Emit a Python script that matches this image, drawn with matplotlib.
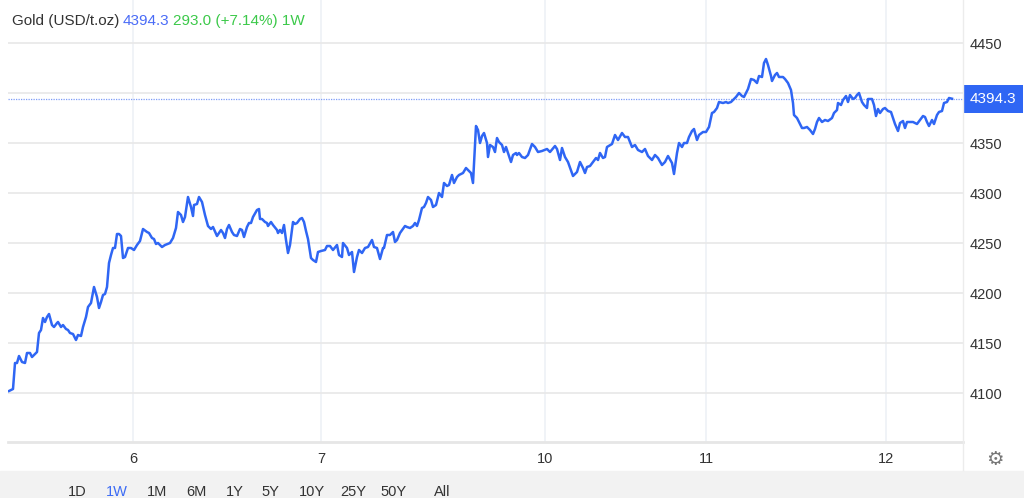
import matplotlib.pyplot as plt
from matplotlib.lines import Line2D
from matplotlib.patches import Rectangle

plt.rcParams['font.family'] = ['Liberation Sans', 'DejaVu Sans']

# Gold price, 1W view (x = time step along the chart, y = USD/t.oz)
t = [9, 13, 15, 17, 19, 22, 25, 27, 30, 32, 36, 37, 39, 41, 43, 45, 47, 49, 52, 54,
     57, 58, 61, 63, 66, 68, 70, 73, 76, 78, 81, 83, 86, 88, 91, 94, 97, 99, 101, 103,
     105, 107, 109, 111, 113, 115, 117, 119, 121, 123, 125, 128, 131, 134, 137, 140, 143, 147, 149, 152,
     154, 156, 158, 162, 165, 170, 173, 176, 178, 181, 183, 185, 188, 191, 193, 194, 197, 199, 202, 205,
     208, 211, 213, 217, 219, 221, 223, 225, 227, 229, 232, 234, 237, 240, 242, 244, 247, 249, 251, 253,
     257, 259, 260, 262, 265, 267, 268, 271, 273, 277, 278, 280, 282, 284, 286, 288, 290, 293, 295, 297,
     300, 302, 304, 306, 308, 311, 313, 316, 318, 321, 325, 327, 330, 333, 337, 339, 342, 343, 347, 349,
     352, 354, 357, 359, 362, 365, 368, 372, 374, 377, 380, 383, 384, 387, 390, 393, 395, 397, 400, 405,
     407, 410, 413, 415, 417, 419, 422, 424, 426, 428, 431, 433, 436, 439, 442, 444, 447, 449, 452, 454,
     457, 459, 463, 466, 468, 471, 473, 476, 478, 480, 482, 484, 487, 488, 490, 493, 495, 497, 499, 502,
     504, 506, 508, 511, 513, 516, 517, 519, 522, 525, 528, 532, 535, 538, 542, 547, 550, 555, 557, 560,
     562, 565, 568, 573, 577, 580, 583, 585, 587, 590, 593, 596, 598, 600, 603, 605, 607, 612, 615, 618,
     622, 625, 628, 632, 635, 638, 642, 645, 648, 652, 655, 658, 662, 665, 668, 672, 674, 677, 679, 682,
     684, 687, 689, 692, 694, 697, 699, 703, 706, 709, 712, 714, 717, 719, 723, 726, 728, 731, 733, 736,
     739, 742, 744, 746, 748, 751, 754, 757, 759, 762, 764, 766, 768, 771, 772, 775, 777, 779, 783, 785,
     788, 791, 793, 794, 797, 799, 802, 804, 807, 810, 813, 815, 817, 819, 822, 825, 828, 832, 834, 837,
     838, 841, 843, 846, 848, 850, 853, 855, 857, 859, 862, 864, 867, 868, 872, 874, 876, 878, 880, 883,
     885, 888, 891, 893, 895, 898, 900, 903, 905, 907, 910, 913, 917, 920, 923, 925, 927, 929, 932, 934,
     937, 939, 942, 944, 947, 949, 952]
price = [4102, 4104, 4130, 4130, 4137, 4131, 4130, 4140, 4140, 4136, 4140, 4141, 4160, 4163, 4175, 4171, 4176, 4179, 4168, 4166,
         4170, 4171, 4166, 4168, 4164, 4163, 4160, 4159, 4153, 4158, 4157, 4166, 4176, 4186, 4190, 4206, 4196, 4185, 4191, 4198,
         4199, 4206, 4230, 4238, 4245, 4245, 4259, 4259, 4257, 4235, 4236, 4245, 4245, 4243, 4248, 4252, 4264, 4261, 4260, 4255,
         4254, 4249, 4250, 4246, 4248, 4250, 4255, 4265, 4281, 4278, 4271, 4276, 4296, 4286, 4277, 4288, 4289, 4296, 4291, 4278,
         4267, 4264, 4266, 4257, 4260, 4263, 4260, 4255, 4264, 4268, 4261, 4258, 4257, 4264, 4263, 4256, 4266, 4270, 4270, 4276,
         4283, 4284, 4274, 4274, 4271, 4270, 4267, 4271, 4268, 4263, 4260, 4263, 4260, 4268, 4253, 4240, 4248, 4271, 4269, 4270,
         4274, 4275, 4271, 4262, 4254, 4235, 4233, 4231, 4241, 4242, 4243, 4247, 4247, 4243, 4248, 4238, 4236, 4250, 4245, 4238,
         4241, 4221, 4236, 4243, 4240, 4245, 4246, 4253, 4246, 4245, 4234, 4245, 4245, 4258, 4258, 4261, 4251, 4253, 4260, 4267,
         4266, 4265, 4267, 4270, 4267, 4273, 4285, 4286, 4290, 4296, 4293, 4286, 4288, 4300, 4296, 4310, 4307, 4308, 4318, 4310,
         4316, 4318, 4320, 4325, 4323, 4320, 4310, 4367, 4363, 4350, 4357, 4360, 4350, 4336, 4348, 4346, 4341, 4355, 4351, 4348,
         4341, 4346, 4340, 4331, 4338, 4340, 4338, 4340, 4336, 4335, 4338, 4349, 4346, 4341, 4342, 4344, 4341, 4347, 4344, 4333,
         4345, 4336, 4331, 4317, 4321, 4331, 4325, 4320, 4326, 4327, 4331, 4335, 4333, 4340, 4335, 4336, 4346, 4349, 4358, 4353,
         4360, 4356, 4356, 4346, 4348, 4343, 4341, 4344, 4337, 4333, 4338, 4335, 4328, 4331, 4337, 4330, 4319, 4340, 4350, 4346,
         4350, 4350, 4356, 4362, 4364, 4353, 4358, 4361, 4361, 4366, 4380, 4381, 4385, 4391, 4390, 4391, 4390, 4391, 4393, 4396,
         4400, 4397, 4396, 4400, 4404, 4414, 4413, 4410, 4417, 4416, 4430, 4434, 4428, 4417, 4412, 4418, 4420, 4416, 4416, 4414,
         4410, 4403, 4390, 4378, 4375, 4371, 4365, 4365, 4366, 4363, 4359, 4364, 4371, 4375, 4371, 4373, 4372, 4375, 4380, 4383,
         4390, 4388, 4393, 4397, 4391, 4398, 4394, 4395, 4398, 4400, 4391, 4388, 4385, 4394, 4394, 4388, 4377, 4384, 4380, 4384,
         4385, 4382, 4381, 4375, 4369, 4362, 4370, 4372, 4365, 4371, 4371, 4371, 4369, 4373, 4377, 4376, 4371, 4367, 4373, 4369,
         4378, 4381, 4382, 4390, 4391, 4395, 4394.3]

day_ticks = [133, 321, 545, 706, 886]
day_labels = ['6', '7', '10', '11', '12']
y_ticks = [4100, 4150, 4200, 4250, 4300, 4350, 4400, 4450]
ranges = ['1D', '1W', '1M', '6M', '1Y', '5Y', '10Y', '25Y', '50Y', 'All']
range_x = [77, 117, 157, 196, 235, 270, 312, 353, 394, 442]
last = price[-1]

W, H = 1024, 498
fig = plt.figure(figsize=(W / 100, H / 100), dpi=100)
ax = fig.add_axes([8 / W, (H - 442) / H, (963 - 8) / W, 442 / H])

line_c = '#2f66f4'
ax.plot(t, price, color=line_c, linewidth=1.8, solid_joinstyle='round', zorder=3)
ax.axhline(last, color='#7d9cf8', linewidth=0.9, linestyle=(0, (1, 1)), zorder=2)

ax.set_xlim(8, 963)
ax.set_ylim(4051, 4493)
ax.set_xticks(day_ticks, day_labels)
# the label under the price tag is left blank
y_labels = [('' if abs(v - last) < 20 else str(v)) for v in y_ticks]
ax.set_yticks(y_ticks, y_labels)
ax.yaxis.tick_right()
ax.tick_params(axis='both', length=0, labelsize=10.5, labelcolor='#333333')
ax.tick_params(axis='x', pad=7)
ax.tick_params(axis='y', pad=5)
ax.grid(axis='y', color='#e8e8e8', linewidth=1.2)
ax.grid(axis='x', color='#edf1f6', linewidth=1.2)
for s in ['top', 'left', 'right']:
    ax.spines[s].set_visible(False)
ax.spines['bottom'].set_color('#e6e6e6')
ax.spines['bottom'].set_linewidth(2)

# price tag on the right axis
ax.annotate(f'{last:.1f}', xy=(1, last), xycoords=('axes fraction', 'data'),
            xytext=(5, 0), textcoords='offset points', ha='left', va='center',
            fontsize=11, color='white',
            bbox=dict(boxstyle='square,pad=0.45', fc='#2f66f4', ec='none'))

# right separator and bottom bar
fig.add_artist(Line2D([963 / W, 963 / W], [(H - 470) / H, 1], color='#ececec', linewidth=1))
fig.add_artist(Rectangle((0, 0), 1, (H - 471) / H, transform=fig.transFigure,
                         color='#f2f2f2', zorder=0))
for lab, x in zip(ranges, range_x):
    fig.text(x / W, (H - 492) / H, lab, ha='center', va='center', fontsize=10.5,
             color='#3d6cf5' if lab == '1W' else '#333333')
fig.text(995 / W, (H - 459) / H, '\u2699', ha='center', va='center', fontsize=14,
         color='#777777', family='DejaVu Sans')

# header
hy = (H - 21) / H
fig.text(12 / W, hy, 'Gold (USD/t.oz)', ha='left', va='center', fontsize=11, color='#333333')
fig.text(123 / W, hy, f'{last:.1f}', ha='left', va='center', fontsize=11, color='#4a6cf7')
fig.text(173 / W, hy, '293.0 (+7.14%) 1W', ha='left', va='center', fontsize=11, color='#3cc94a')

fig.savefig('out.png', dpi=100)
